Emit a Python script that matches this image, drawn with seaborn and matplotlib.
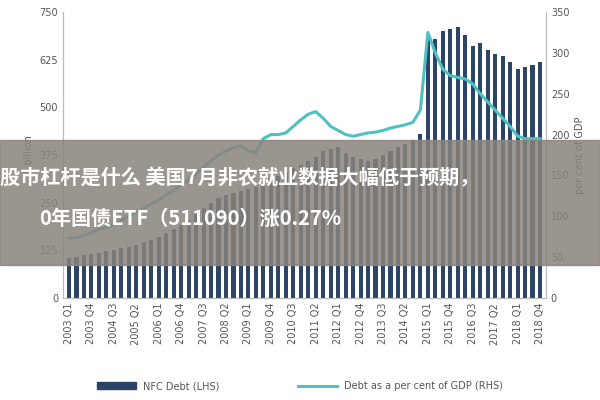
import matplotlib
matplotlib.use("Agg")
import matplotlib.pyplot as plt
import seaborn as sns
import pandas as pd
from matplotlib.patches import Rectangle, Patch
from matplotlib.lines import Line2D

quarters = [f"{y} Q{q}" for y in range(2003, 2019) for q in range(1, 5)]
nfc_debt = [105, 108, 112, 115, 118, 122, 126, 130, 135, 140, 146, 152,
            160, 170, 180, 192, 205, 220, 235, 250, 262, 270, 275, 280,
            285, 290, 300, 310, 320, 330, 340, 350, 360, 370, 385, 392,
            395, 380, 370, 365, 360, 365, 375, 385, 395, 405, 415, 430,
            690, 680, 700, 705, 710, 690, 660, 670, 650, 640, 635, 620,
            600, 605, 612, 618]
debt_gdp = [73, 74, 76, 80, 84, 86, 90, 95, 100, 105, 110, 115,
            120, 126, 132, 138, 145, 152, 160, 168, 175, 180, 184, 186,
            180, 178, 195, 200, 200, 202, 210, 218, 225, 228, 220, 210,
            205, 200, 198, 200, 202, 203, 205, 208, 210, 212, 215, 230,
            325, 300, 280, 272, 270, 268, 262, 250, 240, 230, 220, 210,
            198, 195, 195, 195]
tick_labels = quarters[::3]
banner_1 = "股市杠杆是什么 美国7月非农就业数据大幅低于预期，"
banner_2 = "0年国债ETF（511090）涨0.27%"

df = pd.DataFrame({"q": quarters, "debt": nfc_debt, "pct": debt_gdp})

fig = plt.figure(figsize=(6, 4), dpi=100)
ax = fig.add_axes([0.105, 0.255, 0.805, 0.715])
sns.barplot(data=df, x="q", y="debt", color="#2c4566", width=0.55, ax=ax, saturation=1)
ax2 = ax.twinx()
ax2.plot(range(len(quarters)), debt_gdp, color="#4fc1c0", lw=2.2)
ax.set_ylim(0, 750)
ax2.set_ylim(0, 350)
ax.set_yticks(range(0, 751, 125))
ax2.set_yticks(range(0, 351, 50))
ax.set_xticks(range(0, len(quarters), 3))
ax.set_xticklabels(tick_labels, rotation=90, fontsize=6.5, color="#555555")
ax.set_xlim(-0.8, len(quarters) - 0.2)
ax.set_xlabel("")
ax.set_ylabel("£ billion", fontsize=7, color="#555555")
ax2.set_ylabel("per cent of GDP", fontsize=7, color="#555555")
for a in (ax, ax2):
    a.tick_params(labelsize=7, colors="#555555", length=0)
    for s in a.spines.values():
        s.set_color("#bbbbbb")
ax.spines["top"].set_visible(False)
ax2.spines["top"].set_visible(False)

handles = [Patch(color="#2c4566"), Line2D([0], [0], color="#4fc1c0", lw=2.2)]
fig.legend(handles, ["NFC Debt (LHS)", "Debt as a per cent of GDP (RHS)"],
           loc="lower center", bbox_to_anchor=(0.5, 0.0), ncol=2, frameon=False,
           fontsize=7, handlelength=4, columnspacing=8, labelcolor="#555555")

fig.patches.append(Rectangle((0, 0.3375), 1, 0.3125, transform=fig.transFigure,
                             color="#8a837c", alpha=0.85, zorder=10))
cjk = ["Noto Sans CJK SC", "Noto Sans CJK JP", "DejaVu Sans"]
fig.text(0.0, 0.555, banner_1, color="white", fontsize=14.5, family=cjk,
         weight="bold", va="center", ha="left", zorder=11)
fig.text(0.065, 0.455, banner_2, color="white", fontsize=14.5, family=cjk,
         weight="bold", va="center", ha="left", zorder=11)

fig.savefig("out.png", dpi=100)
